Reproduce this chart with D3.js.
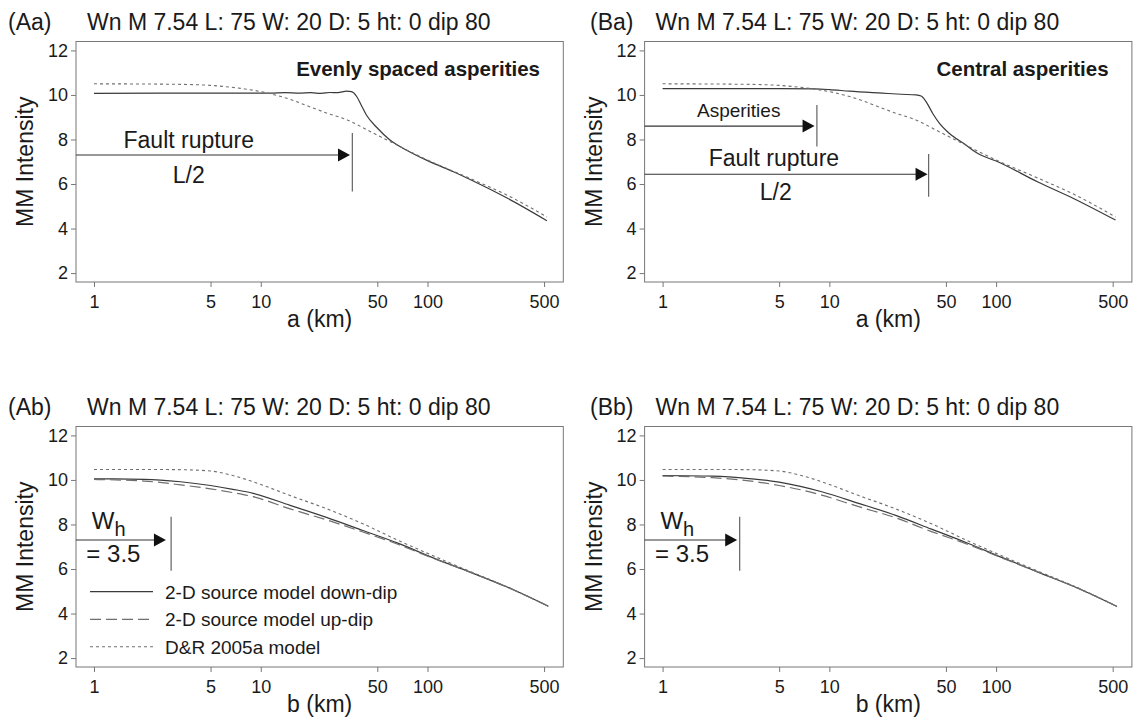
<!DOCTYPE html>
<html><head><meta charset="utf-8">
<script src="https://cdn.jsdelivr.net/npm/d3@7"></script>
<style>
html,body{margin:0;padding:0;background:#fff;}
svg text{font-family:"Liberation Sans",Arial,Helvetica,sans-serif;fill:#1a1a1a;}
</style></head>
<body><svg id="chart" width="1136" height="719"></svg>
<script>
// ---------- data ----------
const xTicks = [1, 5, 10, 50, 100, 500];
const yTicks = [2, 4, 6, 8, 10, 12];
const titleText = "Wn M 7.54 L: 75 W: 20 D: 5 ht: 0 dip 80";

// top row: distance along strike a (km)
const aKmEven = [1, 5, 10, 11.4, 14, 17, 20, 23, 26, 29, 32.7, 35, 37.6, 40, 43, 49.5, 59.5, 75, 100, 143, 184, 300, 520];
const mmiEven = [10.07, 10.08, 10.08, 10.08, 10.1, 10.08, 10.1, 10.07, 10.11, 10.1, 10.17, 10.15, 9.93, 9.55, 9.1, 8.55, 7.98, 7.52, 7.05, 6.55, 6.17, 5.37, 4.35];

const aKmCentral = [1, 5, 8.15, 10, 13.2, 20.8, 27, 33.1, 35.5, 38, 41.6, 46, 52.3, 65.9, 76.4, 104, 178, 293, 520];
const mmiCentral = [10.28, 10.28, 10.27, 10.24, 10.17, 10.08, 10.03, 10.0, 9.95, 9.7, 9.18, 8.7, 8.28, 7.75, 7.4, 6.98, 6.09, 5.34, 4.38];

const aKmDR = [1, 3, 5, 6, 8, 10, 13.2, 15, 20, 25, 33, 45, 52.3, 59.5, 75, 100, 180, 300, 520];
const mmiDRa = [10.5, 10.48, 10.43, 10.38, 10.27, 10.15, 9.93, 9.8, 9.45, 9.18, 8.88, 8.37, 8.12, 7.91, 7.53, 7.08, 6.25, 5.5, 4.52];

// bottom row: distance down dip b (km)
const bKm = [1, 2, 3.3, 5, 6.8, 9, 15, 25, 41, 67, 110, 180, 300, 530];
const mmiDownA = [10.05, 10.03, 9.92, 9.75, 9.58, 9.4, 8.86, 8.31, 7.73, 7.15, 6.48, 5.86, 5.19, 4.33];
const mmiUpA   = [10.02, 9.95, 9.78, 9.6, 9.43, 9.25, 8.7, 8.2, 7.66, 7.1, 6.46, 5.86, 5.19, 4.33];
const mmiDownB = [10.2, 10.17, 10.06, 9.9, 9.7, 9.47, 8.95, 8.41, 7.79, 7.17, 6.5, 5.85, 5.18, 4.32];
const mmiUpB   = [10.17, 10.1, 9.96, 9.75, 9.55, 9.32, 8.8, 8.3, 7.68, 7.12, 6.48, 5.85, 5.18, 4.32];
const mmiDRb   = [10.47, 10.47, 10.46, 10.4, 10.2, 9.92, 9.3, 8.7, 8.03, 7.28, 6.57, 5.89, 5.2, 4.33];

const legendLabels = ["2-D source model down-dip", "2-D source model up-dip", "D&R 2005a model"];

// ---------- layout ----------
const svg = d3.select("#chart");
const box = {left: 76, right: 563.3, top: 41.5, bottom: 282};
const colX = [0, 568.6];
const rowY = [0, 385];
const styles = {
  solid:  {stroke: "#3a3a3a", width: 1.2, dash: null},
  dashed: {stroke: "#6e6e6e", width: 1.2, dash: "11,5"},
  dotted: {stroke: "#707070", width: 1.1, dash: "3,3"}
};

const x = d3.scaleLog().domain([0.78, 652]).range([box.left, box.right]);
const y = d3.scaleLinear().domain([1.6, 12.4]).range([box.bottom, box.top]);
const line = d3.line().x(d => x(d[0])).y(d => y(d[1])).curve(d3.curveMonotoneX);
const zip = (a, b) => a.map((v, i) => [v, b[i]]);

const panels = [
  {tag: "(Aa)", col: 0, row: 0, xlab: "a (km)", tagX: 8,
   series: [{k: aKmEven, v: mmiEven, s: "solid"}, {k: aKmDR, v: mmiDRa, s: "dotted"}],
   note: "Evenly spaced asperities",
   arrows: [{tip: 34.3, y: 7.30, mark: 35.4, y1: 8.29, y2: 5.66}],
   texts: [{t: "Fault rupture", km: 3.7, v: 7.6, size: 23}, {t: "L/2", km: 3.7, v: 6.03, size: 23}]},
  {tag: "(Ba)", col: 1, row: 0, xlab: "a (km)", tagX: 21.4,
   series: [{k: aKmCentral, v: mmiCentral, s: "solid"}, {k: aKmDR, v: mmiDRa, s: "dotted"}],
   note: "Central asperities",
   arrows: [{tip: 8.15, y: 8.6, mark: 8.42, y1: 9.55, y2: 7.68},
            {tip: 38.8, y: 6.44, mark: 39.4, y1: 7.35, y2: 5.43}],
   texts: [{t: "Asperities", km: 2.86, v: 9.0, size: 19}, {t: "Fault rupture", km: 4.65, v: 6.81, size: 23},
           {t: "L/2", km: 4.77, v: 5.28, size: 23}]},
  {tag: "(Ab)", col: 0, row: 1, xlab: "b (km)", tagX: 8, legend: true,
   series: [{k: bKm, v: mmiDownA, s: "solid"}, {k: bKm, v: mmiUpA, s: "dashed"}, {k: bKm, v: mmiDRb, s: "dotted"}],
   arrows: [{tip: 2.7, y: 7.30, mark: 2.9, y1: 8.35, y2: 5.92}], wh: true},
  {tag: "(Bb)", col: 1, row: 1, xlab: "b (km)", tagX: 21.4,
   series: [{k: bKm, v: mmiDownB, s: "solid"}, {k: bKm, v: mmiUpB, s: "dashed"}, {k: bKm, v: mmiDRb, s: "dotted"}],
   arrows: [{tip: 2.8, y: 7.30, mark: 2.9, y1: 8.35, y2: 5.92}], wh: true}
];

function applyStyle(sel, s) {
  const st = styles[s];
  sel.attr("fill", "none").attr("stroke", st.stroke).attr("stroke-width", st.width);
  if (st.dash) sel.attr("stroke-dasharray", st.dash);
  return sel;
}

panels.forEach(p => {
  const g = svg.append("g").attr("transform", `translate(${colX[p.col]},${rowY[p.row]})`);

  // titles
  g.append("text").attr("x", p.tagX).attr("y", 30).attr("font-size", 23).text(p.tag);
  g.append("text").attr("x", 87).attr("y", 30).attr("font-size", 23).text(titleText);

  // frame
  g.append("rect").attr("x", box.left).attr("y", box.top)
    .attr("width", box.right - box.left).attr("height", box.bottom - box.top)
    .attr("fill", "none").attr("stroke", "#777").attr("stroke-width", 1);

  // axes
  const xa = g.append("g").attr("transform", `translate(0,${box.bottom})`)
    .call(d3.axisBottom(x).tickValues(xTicks).tickFormat(d3.format("d")).tickSize(5).tickPadding(8));
  xa.select(".domain").remove();
  xa.selectAll("line").attr("stroke", "#777");
  xa.selectAll("text").attr("font-size", 18).attr("fill", "#1a1a1a").attr("font-family", "Liberation Sans, Arial, sans-serif");

  const ya = g.append("g").attr("transform", `translate(${box.left},0)`)
    .call(d3.axisLeft(y).tickValues(yTicks).tickSize(5).tickPadding(3));
  ya.select(".domain").remove();
  ya.selectAll("line").attr("stroke", "#777");
  ya.selectAll("text").attr("font-size", 18).attr("fill", "#1a1a1a").attr("font-family", "Liberation Sans, Arial, sans-serif");

  g.append("text").attr("x", (box.left + box.right) / 2).attr("y", 327)
    .attr("text-anchor", "middle").attr("font-size", 23).text(p.xlab);
  g.append("text").attr("transform", `translate(33,${(box.top + box.bottom) / 2}) rotate(-90)`)
    .attr("text-anchor", "middle").attr("font-size", 23).text("MM Intensity");

  // curves
  p.series.forEach(s => {
    applyStyle(g.append("path").attr("d", line(zip(s.k, s.v))), s.s);
  });

  // bold note
  if (p.note) {
    g.append("text").attr("x", 540).attr("y", 76).attr("text-anchor", "end")
      .attr("font-size", 20.5).attr("font-weight", "bold").text(p.note);
  }

  // arrows
  (p.arrows || []).forEach(a => {
    const ty = y(a.y), tx = x(a.tip);
    g.append("line").attr("x1", box.left).attr("x2", tx - 10).attr("y1", ty).attr("y2", ty)
      .attr("stroke", "#333").attr("stroke-width", 1.1);
    g.append("path").attr("d", `M${tx},${ty} L${tx - 12},${ty - 6.5} L${tx - 12},${ty + 6.5} Z`).attr("fill", "#111");
    g.append("line").attr("x1", x(a.mark)).attr("x2", x(a.mark)).attr("y1", y(a.y1)).attr("y2", y(a.y2))
      .attr("stroke", "#555").attr("stroke-width", 1.1);
  });
  (p.texts || []).forEach(t => {
    g.append("text").attr("x", x(t.km)).attr("y", y(t.v)).attr("text-anchor", "middle")
      .attr("font-size", t.size).text(t.t);
  });
  if (p.wh) {
    const w = g.append("text").attr("x", x(0.97)).attr("y", y(7.8)).attr("font-size", 24);
    w.append("tspan").text("W");
    w.append("tspan").attr("font-size", 20).attr("dy", 7).text("h");
    g.append("text").attr("x", x(0.90)).attr("y", y(6.33)).attr("font-size", 24).text("= 3.5");
  }

  // legend
  if (p.legend) {
    const ly = [206.7, 234.3, 261.7];
    ["solid", "dashed", "dotted"].forEach((s, i) => {
      applyStyle(g.append("line").attr("x1", 90).attr("x2", 153).attr("y1", ly[i]).attr("y2", ly[i]), s);
      g.append("text").attr("x", 165).attr("y", ly[i] + 7).attr("font-size", 19).text(legendLabels[i]);
    });
  }
});
</script></body></html>
